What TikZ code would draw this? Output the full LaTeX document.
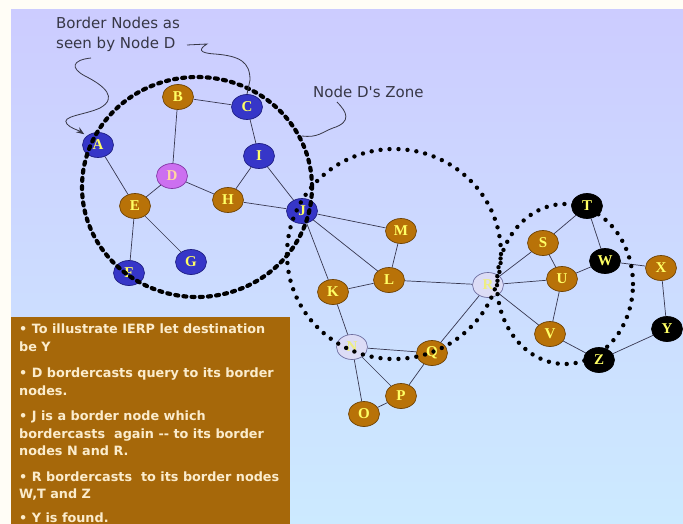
\documentclass[tikz,border=0pt]{standalone}
\usepackage{fontspec}
\usetikzlibrary{shapes.geometric,arrows.meta}
\newfontfamily\annofont{DejaVu Sans}
\newfontfamily\letterfont{Liberation Serif}

\definecolor{bgtop}{RGB}{204,204,255}
\definecolor{bgbot}{RGB}{204,234,255}
\definecolor{margin}{RGB}{255,253,246}
\definecolor{boxbrown}{RGB}{166,104,10}
\definecolor{boxtext}{RGB}{251,236,204}
\definecolor{nblue}{RGB}{54,54,200}
\definecolor{nblueline}{RGB}{30,30,130}
\definecolor{nbrown}{RGB}{184,114,8}
\definecolor{nbrownline}{RGB}{110,66,5}
\definecolor{nviolet}{RGB}{204,111,240}
\definecolor{nvioletline}{RGB}{130,55,165}
\definecolor{npale}{RGB}{220,220,246}
\definecolor{npaleline}{RGB}{110,110,160}
\definecolor{nyellow}{RGB}{255,255,100}
\definecolor{violettext}{RGB}{255,215,160}
\definecolor{paletext}{RGB}{238,238,130}
\definecolor{edgegray}{RGB}{55,55,80}
\definecolor{annogray}{RGB}{55,55,70}

\tikzset{
  nd/.style={ellipse, minimum width=31pt, minimum height=25pt, inner sep=0pt,
             line width=0.7pt, font=\letterfont\bfseries\fontsize{15}{15}\selectfont},
  bluenode/.style={nd, fill=nblue, draw=nblueline, text=nyellow},
  brownnode/.style={nd, fill=nbrown, draw=nbrownline, text=nyellow},
  blacknode/.style={nd, fill=black, draw=black, text=nyellow},
  palenode/.style={nd, fill=npale, draw=npaleline, text=paletext},
  srcnode/.style={nd, fill=nviolet, draw=nvioletline, text=violettext},
  link/.style={draw=edgegray, line width=0.7pt},
  zonethick/.style={draw=black, line width=4.2pt, dash pattern=on 3pt off 5.2pt, line cap=round},
  zonedots/.style={draw=black, line width=4.4pt, dash pattern=on 0pt off 9pt, line cap=round},
  annotext/.style={text=annogray, font=\annofont\fontsize{15}{20}\selectfont, inner sep=0pt},
  annoline/.style={draw=annogray, line width=0.8pt},
  boxtxt/.style={text=boxtext, font=\annofont\bfseries\fontsize{12.8}{17.5}\selectfont,
                 align=left, inner sep=0pt},
}

\begin{document}
\begin{tikzpicture}[x=1pt,y=-1pt]
\useasboundingbox (0,0) rectangle (683,524);

% page margin and shaded slide background
\fill[margin] (0,0) rectangle (683,524);
\shade[top color=bgtop, bottom color=bgbot] (11,10) rectangle (683,524);

% explanation panel
\fill[boxbrown] (11,317) rectangle (290,524);
\node[boxtxt, anchor=north west] (steps) at (19,324)
  {• To illustrate IERP let destination\\
   be Y\\[9pt]
   • D bordercasts query to its border\\
   nodes.\\[8pt]
   • J is a border node which\\
   bordercasts\ \ again \mbox{-}\mbox{-} to its border\\
   nodes N and R.\\[8pt]
   • R bordercasts\ \ to its border nodes\\
   W,T and Z\\[6pt]
   • Y is found.};

% nodes of the network
\node[bluenode]  (A) at (98,145) {A};
\node[brownnode] (B) at (178,97) {B};
\node[bluenode]  (C) at (247,107) {C};
\node[srcnode]   (D) at (172,176) {D};
\node[brownnode] (E) at (135,206) {E};
\node[bluenode]  (F) at (129,273) {F};
\node[bluenode]  (G) at (191,262) {G};
\node[brownnode] (H) at (228,200) {H};
\node[bluenode]  (I) at (259,156) {I};
\node[bluenode]  (J) at (302,211) {J};
\node[brownnode] (K) at (333,292) {K};
\node[brownnode] (L) at (389,280) {L};
\node[brownnode] (M) at (401,231) {M};
\node[palenode]  (N) at (352,347) {N};
\node[brownnode] (O) at (364,414) {O};
\node[brownnode] (P) at (401,396) {P};
\node[brownnode] (Q) at (432,353) {Q};
\node[palenode]  (R) at (488,285) {R};
\node[brownnode] (S) at (543,243) {S};
\node[blacknode] (T) at (587,206) {T};
\node[brownnode] (U) at (562,279) {U};
\node[brownnode] (V) at (550,334) {V};
\node[blacknode] (W) at (605,261) {W};
\node[brownnode] (X) at (661,268) {X};
\node[blacknode] (Y) at (667,329) {Y};
\node[blacknode] (Z) at (599,360) {Z};

% links
\foreach \u/\v in {A/E, B/C, B/D, C/I, I/H, I/J, D/E, D/H, H/J, E/G, E/F,
                   J/M, J/L, J/K, M/L, K/L, L/R, K/N, N/Q, N/P, N/O, O/P,
                   P/Q, Q/R, R/S, R/U, R/V, S/T, S/U, T/W, U/W, W/X, U/V,
                   V/Z, Z/Y, X/Y}
  \draw[link] (\u) -- (\v);

% zones
\draw[zonethick] (197,187) ellipse [x radius=115pt, y radius=110pt];
\draw[zonedots] (394,254) ellipse [x radius=107pt, y radius=105pt];
\draw[zonedots] (565,284) ellipse [x radius=68pt, y radius=80pt];

% annotations
\node[annotext, align=left, anchor=north west] (bordertxt) at (56,17)
  {Border Nodes as\\seen by Node D};
\node[annotext, anchor=west] (zonetxt) at (313,92) {Node D's Zone};

\coordinate (cstart) at (187,45);
\coordinate (astart) at (91,58);
\coordinate (zstart) at (337,102);
\coordinate (zend) at (302,136);

\draw[annoline] (cstart) -- (207,44) .. controls (199,49) and (198,53) .. (215,54)
  .. controls (240,56) and (250,62) .. (250,80) -- (C.north);
\draw[annoline, -{Stealth[length=8pt,width=6pt]}, shorten >=3pt] (astart)
  .. controls (72,60) and (70,68) .. (85,76)
  .. controls (105,86) and (118,98) .. (100,108)
  .. controls (85,115) and (60,116) .. (67,124)
  .. controls (70,128) and (78,130) .. (A.north west);
\draw[annoline] (zstart) .. controls (347,112) and (352,122) .. (333,128)
  .. controls (322,132) and (318,138) .. (zend);
\end{tikzpicture}
\end{document}
